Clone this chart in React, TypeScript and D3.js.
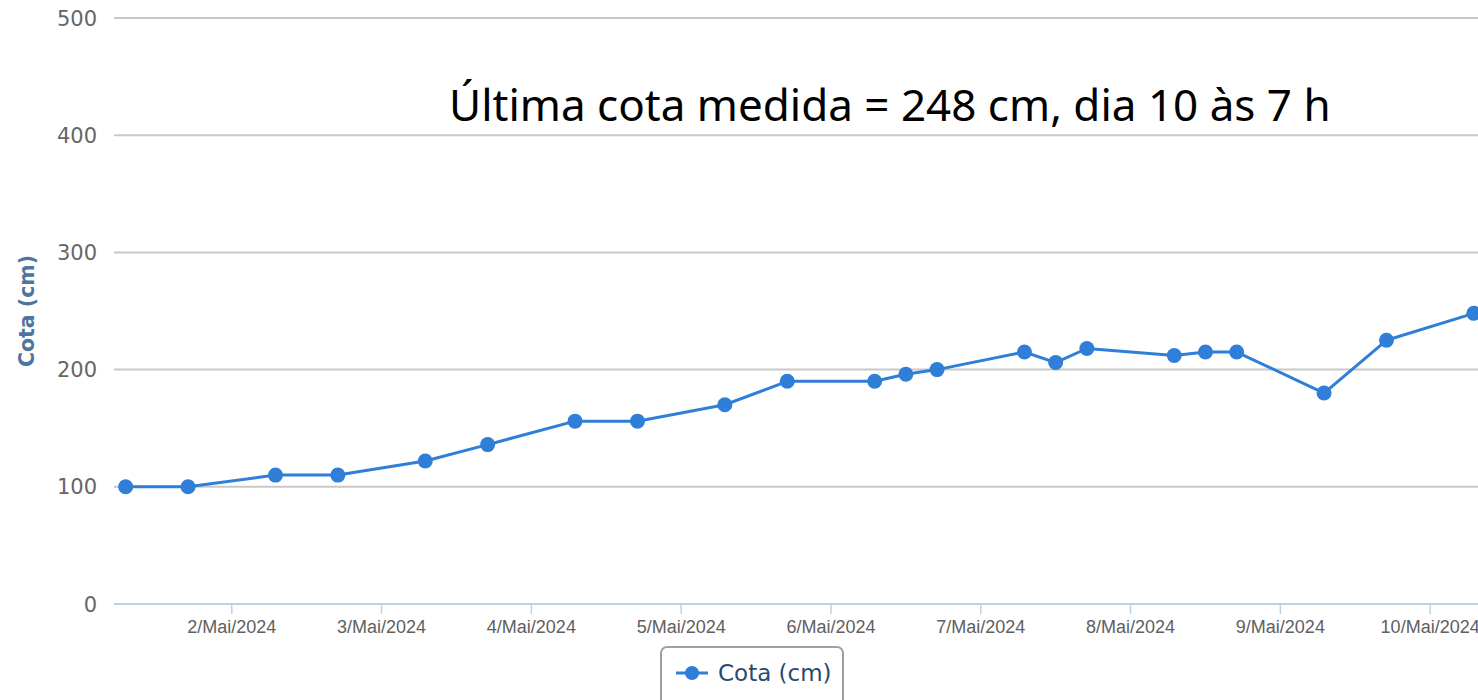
import React from "react";
import * as d3 from "d3";

const times: string[] = [
  "2024-05-01 07:00", "2024-05-01 17:00",
  "2024-05-02 07:00", "2024-05-02 17:00",
  "2024-05-03 07:00", "2024-05-03 17:00",
  "2024-05-04 07:00", "2024-05-04 17:00",
  "2024-05-05 07:00", "2024-05-05 17:00",
  "2024-05-06 07:00", "2024-05-06 12:00", "2024-05-06 17:00",
  "2024-05-07 07:00", "2024-05-07 12:00", "2024-05-07 17:00",
  "2024-05-08 07:00", "2024-05-08 12:00", "2024-05-08 17:00",
  "2024-05-09 07:00", "2024-05-09 17:00",
  "2024-05-10 07:00",
];
const cota: number[] = [
  100, 100,
  110, 110,
  122, 136,
  156, 156,
  170, 190,
  190, 196, 200,
  215, 206, 218,
  212, 215, 215,
  180, 225,
  248,
];
const yTicks: number[] = [0, 100, 200, 300, 400, 500];
const xTickDays: string[] = [
  "2024-05-02", "2024-05-03", "2024-05-04", "2024-05-05", "2024-05-06",
  "2024-05-07", "2024-05-08", "2024-05-09", "2024-05-10",
];
const titleText = "Última cota medida = 248 cm, dia 10 às 7 h";
const seriesName = "Cota (cm)";
const axisTitle = "Cota (cm)";

const W = 1478;
const H = 700;
const plotLeft = 114;
const plotTop = 18;
const plotBottom = 604;
const pxPerDay = 149.8;

const parseT = d3.utcParse("%Y-%m-%d %H:%M");
const parseD = d3.utcParse("%Y-%m-%d");

export default function App() {
  const data = times.map((t, i) => ({ t: parseT(t)!, v: cota[i] }));
  const start = parseT("2024-05-01 05:08")!;
  const end = parseT("2024-05-11 00:00")!;
  const days = (end.getTime() - start.getTime()) / 86400000;
  const x = d3.scaleUtc().domain([start, end]).range([plotLeft, plotLeft + days * pxPerDay]);
  const y = d3.scaleLinear().domain([0, 500]).range([plotBottom, plotTop]);
  const line = d3
    .line<{ t: Date; v: number }>()
    .x((d) => x(d.t))
    .y((d) => y(d.v));
  const color = "#2f7ed8";
  const tickDates = xTickDays.map((s) => parseD(s)!);
  const fmt = (d: Date) => `${d.getUTCDate()}/Mai/${d.getUTCFullYear()}`;

  return (
    <div style={{ position: "fixed", left: 0, top: 0, width: W, height: H, background: "#fff" }}>
      <svg width={W} height={H} style={{ display: "block" }}>
        <rect x={0} y={0} width={W} height={H} fill="#fff" />
        {yTicks.filter((t) => t > 0).map((t) => (
          <line key={t} x1={plotLeft} x2={W} y1={y(t)} y2={y(t)} stroke="#c8c8c8" strokeWidth={2} />
        ))}
        <line x1={plotLeft} x2={W} y1={plotBottom} y2={plotBottom} stroke="#c0d0e0" strokeWidth={2} />
        {tickDates.map((d, i) => (
          <g key={i}>
            <line x1={x(d)} x2={x(d)} y1={plotBottom} y2={plotBottom + 10} stroke="#c0d0e0" strokeWidth={1.5} />
            <text x={x(d)} y={633} textAnchor="middle" fontFamily="'Liberation Sans', Arial, sans-serif" fontSize={18} fill="#606060">
              {fmt(d)}
            </text>
          </g>
        ))}
        {yTicks.map((t) => (
          <text key={t} x={97} y={y(t) + 7.5} textAnchor="end" fontFamily="'DejaVu Sans', sans-serif" fontSize={21} fill="#666">
            {t}
          </text>
        ))}
        <text
          transform={`translate(34,311) rotate(-90)`}
          textAnchor="middle"
          fontFamily="'DejaVu Sans', sans-serif"
          fontWeight="bold"
          fontSize={20.5}
          fill="#4d759e"
        >
          {axisTitle}
        </text>
        <path d={line(data) || ""} fill="none" stroke={color} strokeWidth={3} strokeLinejoin="round" />
        {data.map((d, i) => (
          <circle key={i} cx={x(d.t)} cy={y(d.v)} r={7.5} fill={color} />
        ))}
        <text x={449} y={121} fontFamily="'Noto Sans', sans-serif" fontSize={44} fill="#000">
          {titleText}
        </text>
        <rect x={661} y={647} width={182} height={60} rx={6} ry={6} fill="#fff" stroke="#a0a0a0" strokeWidth={2} />
        <line x1={676} x2={708} y1={673} y2={673} stroke={color} strokeWidth={3} />
        <circle cx={692} cy={673} r={7} fill={color} />
        <text x={718} y={681} fontFamily="'DejaVu Sans', sans-serif" fontSize={23} fill="#274b6d">
          {seriesName}
        </text>
      </svg>
    </div>
  );
}
